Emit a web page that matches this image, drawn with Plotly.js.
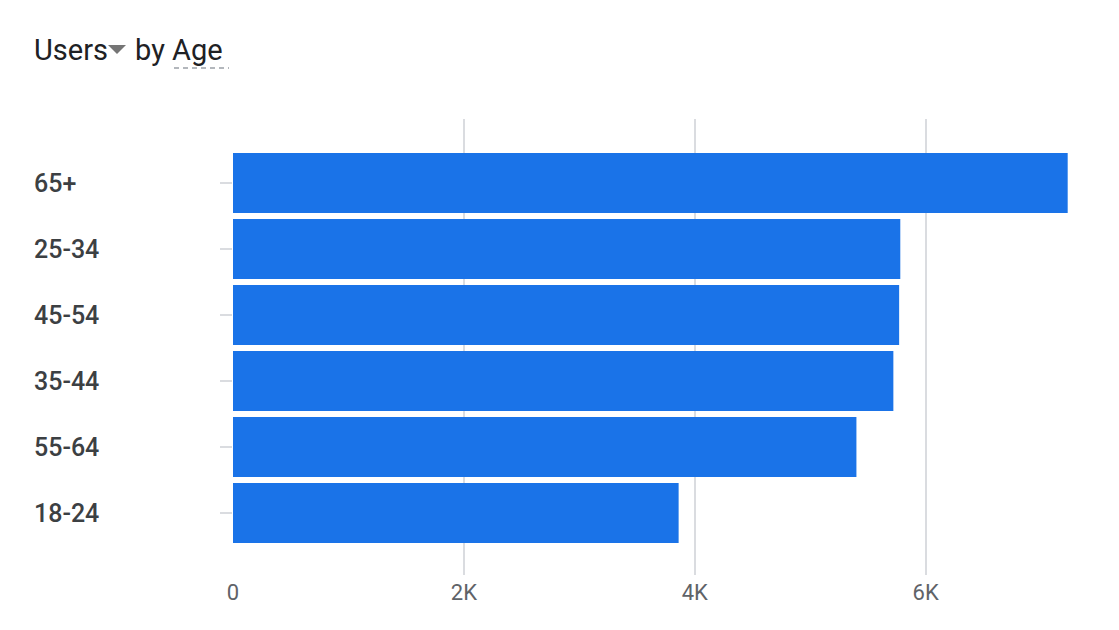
<!DOCTYPE html>
<html>
<head>
<meta charset="utf-8">
<script src="https://cdn.plot.ly/plotly-3.0.1.min.js"></script>
<style>
  html, body { margin: 0; padding: 0; background: #fff; }
  #chart { width: 1119px; height: 630px; }
</style>
</head>
<body>
<div id="chart"></div>
<script>
// age groups, top to bottom
let ageGroups = ["65+", "25-34", "45-54", "35-44", "55-64", "18-24"];
let users = [7230, 5780, 5770, 5720, 5400, 3860];
let tickVals = [0, 2000, 4000, 6000];
let tickText = ["0", "2K", "4K", "6K"];

// plot area is 837 x 456 px starting at (233, 119)
function px(x){ return (x - 233) / 837; }
function py(y){ return (575 - y) / 456; }

let notes = ageGroups.map(function(g){
    return {
        text: g, x: px(32), xref: "paper", xanchor: "left",
        y: g, yref: "y", yanchor: "middle", showarrow: false,
        font: {family: "Roboto", size: 25, color: "#3c4043", weight: 500}
    };
});

notes.push({
    text: "Users", x: px(32), xref: "paper", xanchor: "left",
    y: py(50), yref: "paper", yanchor: "middle", showarrow: false,
    font: {family: "Roboto", size: 29, color: "#202124"}
});
notes.push({
    text: "by Age", x: px(133), xref: "paper", xanchor: "left",
    y: py(50), yref: "paper", yanchor: "middle", showarrow: false,
    font: {family: "Roboto", size: 29, color: "#202124"}
});

Plotly.newPlot("chart", [{
    type: "bar",
    orientation: "h",
    y: ageGroups,
    x: users,
    marker: {color: "#1a73e8"},
    hoverinfo: "x+y"
}], {
    width: 1119,
    height: 630,
    margin: {l: 233, r: 49, t: 119, b: 55},
    paper_bgcolor: "#fff",
    plot_bgcolor: "#fff",
    bargap: 0.09,
    showlegend: false,
    xaxis: {
        range: [0, 7250],
        tickvals: tickVals,
        ticktext: tickText,
        showgrid: true,
        gridcolor: "#dadce0",
        gridwidth: 2,
        zeroline: false,
        showline: false,
        ticks: "",
        ticklabelstandoff: 2,
        tickfont: {family: "Roboto", size: 22, color: "#5f6368"}
    },
    yaxis: {
        type: "category",
        range: [5.939, -0.97],
        showgrid: false,
        zeroline: false,
        showline: false,
        showticklabels: false,
        ticks: "outside",
        ticklen: 12,
        tickwidth: 2,
        tickcolor: "#dadce0"
    },
    annotations: notes,
    shapes: [
        {
            // dropdown caret after "Users"
            type: "path", xref: "paper", yref: "paper",
            path: "M " + px(108) + " " + py(45) + " L " + px(126) + " " + py(45) +
                  " L " + px(117) + " " + py(54) + " Z",
            fillcolor: "#757575", line: {width: 0}
        },
        {
            // dashed underline under "Age"
            type: "line", xref: "paper", yref: "paper",
            x0: px(174), x1: px(229), y0: py(68), y1: py(68),
            line: {color: "#9aa0a6", width: 1.5, dash: "5px,4px"}
        }
    ]
}, {displayModeBar: false, staticPlot: true});
</script>
</body>
</html>
